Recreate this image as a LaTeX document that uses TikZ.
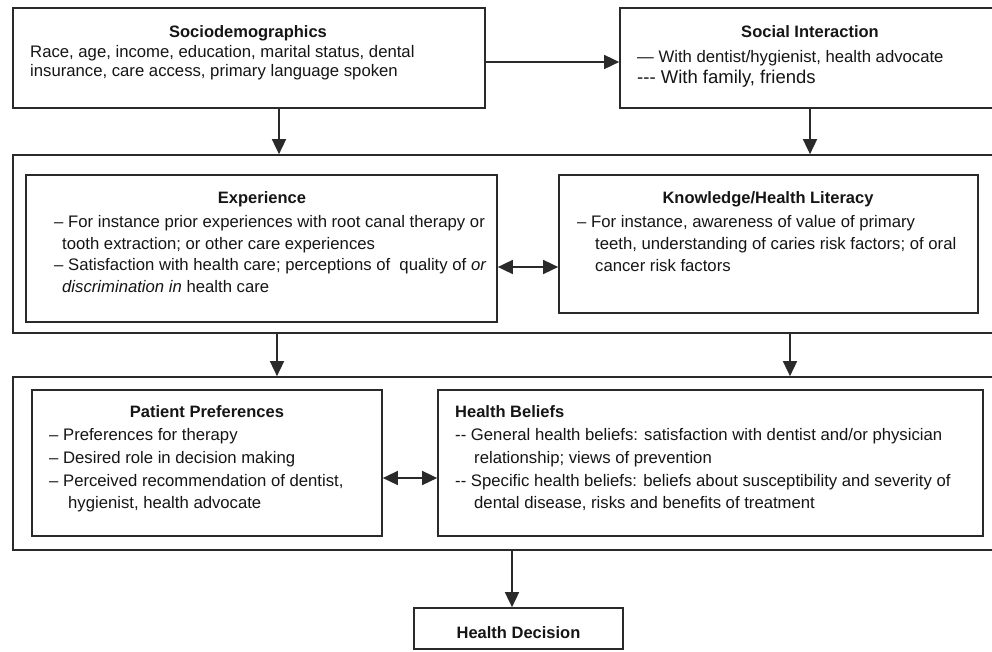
\documentclass[tikz,border=0pt]{standalone}
\usepackage{fontspec}
\setmainfont{Liberation Sans}
\usetikzlibrary{arrows.meta}
\definecolor{lc}{HTML}{2A2A2A}
\definecolor{tc}{HTML}{151515}
\begin{document}
\begin{tikzpicture}[x=1pt,y=-1pt,
  box/.style={draw=lc, line width=1.7pt, inner sep=0pt, rectangle},
  tip/.tip={Triangle[length=15pt,width=14pt]},
  arr/.style={draw=lc, line width=1.6pt, -tip},
  darr/.style={draw=lc, line width=1.6pt, tip-tip},
  ttl/.style={font=\bfseries\fontsize{16.5}{20}\selectfont, anchor=base, inner sep=0pt, text=tc},
  ttlw/.style={font=\bfseries\fontsize{16.5}{20}\selectfont, anchor=base west, inner sep=0pt, text=tc},
  ln/.style={font=\fontsize{16.7}{20}\selectfont, anchor=base west, inner sep=0pt, text=tc},
  lnbig/.style={font=\fontsize{18.5}{22}\selectfont, anchor=base west, inner sep=0pt, text=tc}]
\useasboundingbox (0,0) rectangle (992,651);
\fill[white] (0,0) rectangle (992,651);

% boxes
\node[box, minimum width=472pt, minimum height=100pt] (socio) at (249,58) {};
\node[box, minimum width=380pt, minimum height=100pt] (social) at (810,58) {};
\node[box, minimum width=987pt, minimum height=178pt] (mid) at (506.5,244) {};
\node[box, minimum width=471pt, minimum height=147pt] (exp) at (261.5,248.5) {};
\node[box, minimum width=419pt, minimum height=138pt] (know) at (768.5,244) {};
\node[box, minimum width=987pt, minimum height=173pt] (bot) at (506.5,463.5) {};
\node[box, minimum width=350pt, minimum height=146pt] (pref) at (207,463) {};
\node[box, minimum width=545pt, minimum height=146pt] (belief) at (710.5,463) {};
\node[box, minimum width=209pt, minimum height=41pt] (dec) at (518.5,628.5) {};

% Sociodemographics
\node[ttl] (socioT) at (248,37) {Sociodemographics};
\node[ln] (socio1) at (30,57) {Race, age, income, education, marital status, dental};
\node[ln] (socio2) at (30,76) {insurance, care access, primary language spoken};

% Social Interaction
\node[ttl] (socialT) at (810,37) {Social Interaction};
\node[ln] (social1) at (637,62) {— With dentist/hygienist, health advocate};
\node[lnbig] (social2) at (637,83) {-{}-{}- With family, friends};

% Experience
\node[ttl] (expT) at (262,203) {Experience};
\node[ln] (exp1) at (54,227) {– For instance prior experiences with root canal therapy or};
\node[ln] (exp2) at (62,249) {tooth extraction; or other care experiences};
\node[ln] (exp3) at (54,270) {– Satisfaction with health care; perceptions of\ \ quality of \textit{or}};
\node[ln] (exp4) at (62,292) {\textit{discrimination in} health care};

% Knowledge
\node[ttl] (knowT) at (768,203) {Knowledge/Health Literacy};
\node[ln] (know1) at (577,227) {– For instance, awareness of value of primary};
\node[ln] (know2) at (595,249) {teeth, understanding of caries risk factors; of oral};
\node[ln] (know3) at (595,271) {cancer risk factors};

% Patient Preferences
\node[ttl] (prefT) at (207,417) {Patient Preferences};
\node[ln] (pref1) at (49,440) {– Preferences for therapy};
\node[ln] (pref2) at (49,463) {– Desired role in decision making};
\node[ln] (pref3) at (49,486) {– Perceived recommendation of dentist,};
\node[ln] (pref4) at (68,508) {hygienist, health advocate};

% Health Beliefs
\node[ttlw] (beliefT) at (455,417) {Health Beliefs};
\node[ln] (belief1) at (455,440) {-{}- General health beliefs: satisfaction with dentist and/or physician};
\node[ln] (belief2) at (474,463) {relationship; views of prevention};
\node[ln] (belief3) at (455,486) {-{}- Specific health beliefs: beliefs about susceptibility and severity of};
\node[ln] (belief4) at (474,508) {dental disease, risks and benefits of treatment};

% Health Decision
\node[ttl] (decT) at (518.5,638) {Health Decision};

% connectors
\draw[arr] (socio.east |- 0,62) -- (social.west |- 0,62);
\draw[arr] (socio.south -| 279,0) -- (mid.north -| 279,0);
\draw[arr] (social.south) -- (mid.north -| social.south);
\draw[arr] (mid.south -| 277,0) -- (bot.north -| 277,0);
\draw[arr] (mid.south -| 790,0) -- (bot.north -| 790,0);
\draw[darr] (exp.east |- 0,267) -- (know.west |- 0,267);
\draw[darr] (pref.east |- 0,478) -- (belief.west |- 0,478);
\draw[arr] (bot.south -| 512,0) -- (dec.north -| 512,0);
\end{tikzpicture}
\end{document}
